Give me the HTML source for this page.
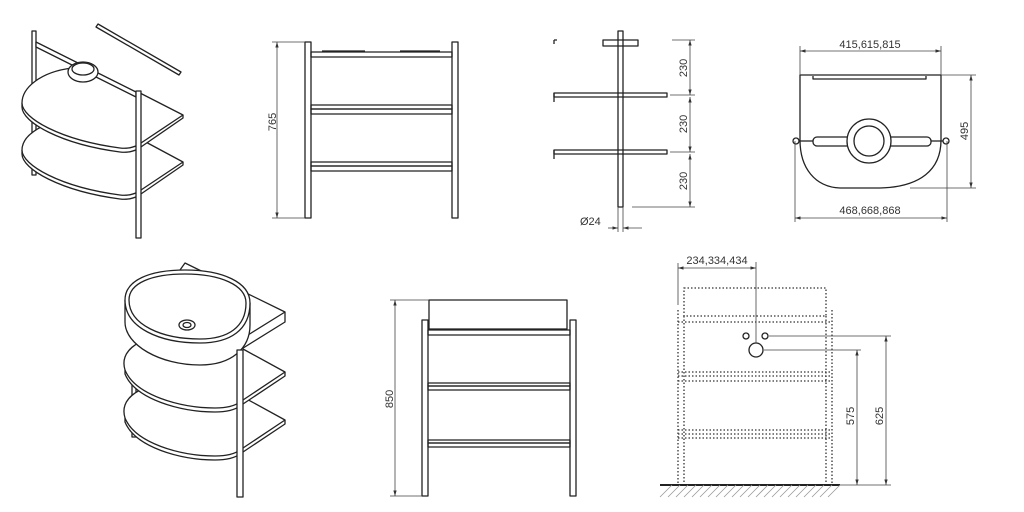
<!DOCTYPE html>
<html><head><style>
html,body{margin:0;padding:0;background:#fff;}
svg{display:block}
text{font-family:"Liberation Sans",sans-serif;font-size:11px;fill:#333}
</style></head><body>
<svg width="1024" height="512" viewBox="0 0 1024 512" xmlns="http://www.w3.org/2000/svg">
<defs>
<marker id="a" viewBox="0 0 10 10" refX="10" refY="5" markerWidth="7" markerHeight="7" orient="auto-start-reverse"><path d="M0,2 L10,5 L0,8 z" fill="#333"/></marker>
</defs>
<g fill="none" stroke="#222" stroke-width="1.3" stroke-linejoin="round">
<!-- ISO 1 top-left -->
<rect x="32" y="31" width="4" height="144" fill="#fff"/>
<path d="M98,24 L181,72 L179,75 L96,27 z" fill="#fff"/>
<!-- shelf 2 -->
<path d="M22,150 L22,154 C22,169 60,191 120,199 C128,200 134,198 138,196 L183,165 L183,162" fill="#fff"/>
<path d="M45,125 C30,132 22,140 22,150 C22,165 60,187 120,195 C128,196 134,194 138,192 L183,162 L142,140" fill="#fff"/>
<!-- shelf 1 -->
<path d="M22,103 L22,107 C22,122 60,144 120,152 C128,153 134,151 138,149 L183,118 L183,115" fill="#fff"/>
<path d="M72,68 C40,72 22,88 22,103 C22,118 60,140 120,148 C128,149 134,147 138,145 L183,115 L140,93" fill="#fff"/>
<!-- top bar + ring -->
<path d="M36,42 L136,92 L136,97 L36,47 z" fill="#fff"/>
<ellipse cx="83" cy="72" rx="15" ry="10" fill="#fff"/>
<ellipse cx="83" cy="69" rx="11" ry="6"/>
<rect x="136" y="91" width="5" height="147" fill="#fff"/>

<!-- FRONT 1 -->
<rect x="305" y="42" width="6" height="176" fill="#fff"/>
<rect x="452" y="42" width="6" height="176" fill="#fff"/>
<rect x="311" y="52" width="141" height="5"/>
<line x1="322" y1="51" x2="365" y2="51"/><line x1="400" y1="51" x2="440" y2="51"/>
<rect x="311" y="105" width="141" height="4"/><rect x="311" y="109" width="141" height="5"/>
<rect x="311" y="162" width="141" height="4"/><rect x="311" y="166" width="141" height="5"/>

<!-- SIDE view -->
<rect x="618" y="31" width="5" height="176" fill="#fff"/>
<rect x="603" y="40" width="35" height="6"/>
<path d="M554,40 v4 M554,40 h3"/>
<rect x="554" y="93" width="113" height="4"/><line x1="554" y1="93" x2="554" y2="102"/>
<rect x="554" y="150" width="113" height="4"/><line x1="554" y1="150" x2="554" y2="159"/>

<!-- TOP view -->
<path d="M800,75 L941,75 L941,140 C941,170 920,187 880,188 L840,188 C815,187 800,168 800,140 z"/>
<path d="M813,76 L813,79 L926,79 L926,76"/>
<rect x="813" y="137" width="118" height="9" rx="4" fill="#fff"/>
<circle cx="869" cy="141" r="22" fill="#fff"/>
<circle cx="869" cy="141" r="15"/>
<line x1="798" y1="141" x2="813" y2="141"/><line x1="931" y1="141" x2="944" y2="141"/>
<circle cx="796" cy="141" r="3" fill="#fff"/><circle cx="946" cy="141" r="3" fill="#fff"/>

<!-- ISO 2 -->
<rect x="132" y="380" width="4" height="57" fill="#fff"/>
<!-- shelf 2 -->
<path d="M125,418 L125,422 C135,447 180,460 215,460 C228,460 236,457 240,454 L285,424 L285,420" fill="#fff"/>
<path d="M140,390 C125,398 122,408 125,418 C135,443 180,456 215,456 C228,456 236,453 240,450 L285,420 L243,397" fill="#fff"/>
<!-- shelf 1 -->
<path d="M125,370 L125,374 C135,399 180,412 215,412 C228,412 236,409 240,406 L285,376 L285,372" fill="#fff"/>
<path d="M140,342 C125,350 122,360 125,370 C135,395 180,408 215,408 C228,408 236,405 240,402 L285,372 L243,349" fill="#fff"/>
<!-- counter slab -->
<path d="M185,263 L285,312 L285,322 L240,350 L225,345 L180,270 z" fill="#fff"/>
<path d="M285,312 L240,340 L240,350"/>
<!-- basin -->
<path d="M125,300 L125,322 C125,345 160,365 200,365 C232,365 250,348 250,325 L250,303" fill="#fff"/>
<path d="M125,300 C125,280 150,270 185,270 C222,270 250,282 250,303 C250,330 230,343 200,343 C160,343 125,328 125,300 z" fill="#fff"/>
<path d="M129,300 C129,283 152,274 185,274 C220,274 246,285 246,303 C246,327 228,339 200,339 C162,339 129,325 129,300 z"/>
<ellipse cx="187" cy="325" rx="8" ry="5"/><ellipse cx="187" cy="325" rx="4" ry="2.5"/>
<rect x="237" y="350" width="6" height="147" fill="#fff"/>

<!-- FRONT 2 -->
<rect x="429" y="300" width="138" height="29"/>
<rect x="422" y="320" width="6" height="176" fill="#fff"/>
<rect x="570" y="320" width="6" height="176" fill="#fff"/>
<rect x="428" y="330" width="142" height="5"/>
<rect x="428" y="383" width="142" height="3"/><rect x="428" y="386" width="142" height="4"/>
<rect x="428" y="440" width="142" height="3"/><rect x="428" y="443" width="142" height="4"/>
</g>

<!-- DOTTED front view -->
<g fill="none" stroke="#333" stroke-width="1.3" stroke-dasharray="1.5,2">
<rect x="684" y="288" width="142" height="28"/>
<path d="M678,310 V485 M684,316 V485 M826,316 V485 M832,310 V485"/>
<path d="M678,322 H832 M678,372 H832 M678,376 H832 M678,381 H832 M678,430 H832 M678,434 H832 M678,438 H832"/>
</g>
<g fill="none" stroke="#222" stroke-width="1.3">
<circle cx="746" cy="336" r="3"/><circle cx="765" cy="336" r="3"/><circle cx="756" cy="350" r="7"/>
<line x1="660" y1="485" x2="840" y2="485" stroke-width="2"/>
</g>
<g stroke="#999" stroke-width="0.8">
<path d="M660,497 l12,-12 M668,497 l12,-12 M676,497 l12,-12 M684,497 l12,-12 M692,497 l12,-12 M700,497 l12,-12 M708,497 l12,-12 M716,497 l12,-12 M724,497 l12,-12 M732,497 l12,-12 M740,497 l12,-12 M748,497 l12,-12 M756,497 l12,-12 M764,497 l12,-12 M772,497 l12,-12 M780,497 l12,-12 M788,497 l12,-12 M796,497 l12,-12 M804,497 l12,-12 M812,497 l12,-12 M820,497 l12,-12 M828,497 l12,-12"/>
</g>

<!-- DIMENSIONS -->
<g stroke="#444" stroke-width="0.8" fill="none">
<line x1="277" y1="42" x2="277" y2="218" marker-start="url(#a)" marker-end="url(#a)"/>
<path d="M272,42 H305 M272,218 H305"/>
<line x1="690" y1="40" x2="690" y2="95" marker-start="url(#a)" marker-end="url(#a)"/>
<line x1="690" y1="97" x2="690" y2="152" marker-start="url(#a)" marker-end="url(#a)"/>
<line x1="690" y1="154" x2="690" y2="207" marker-start="url(#a)" marker-end="url(#a)"/>
<path d="M672,40 H695 M670,95 H695 M670,152 H695 M632,207 H695"/>
<path d="M618,207 V232 M623,207 V232"/>
<line x1="608" y1="228" x2="618" y2="228" marker-end="url(#a)"/>
<line x1="642" y1="228" x2="623" y2="228" marker-end="url(#a)"/>
<line x1="800" y1="51" x2="941" y2="51" marker-start="url(#a)" marker-end="url(#a)"/>
<path d="M800,46 V75 M941,46 V75"/>
<line x1="971" y1="75" x2="971" y2="188" marker-start="url(#a)" marker-end="url(#a)"/>
<path d="M941,75 H976 M910,188 H976"/>
<line x1="795" y1="218" x2="947" y2="218" marker-start="url(#a)" marker-end="url(#a)"/>
<path d="M795,141 V222 M947,141 V222"/>
<line x1="395" y1="300" x2="395" y2="496" marker-start="url(#a)" marker-end="url(#a)"/>
<path d="M390,300 H429 M390,496 H422"/>
<line x1="678" y1="268" x2="756" y2="268" marker-start="url(#a)" marker-end="url(#a)"/>
<path d="M678,263 V305 M756,262 V343"/>
<path d="M769,336 H891 M764,350 H861 M840,485 H891"/>
<line x1="857" y1="350" x2="857" y2="485" marker-start="url(#a)" marker-end="url(#a)"/>
<line x1="886" y1="336" x2="886" y2="485" marker-start="url(#a)" marker-end="url(#a)"/>
</g>
<g>
<text transform="translate(276,122) rotate(-90)" text-anchor="middle">765</text>
<text transform="translate(687,68) rotate(-90)" text-anchor="middle">230</text>
<text transform="translate(687,124) rotate(-90)" text-anchor="middle">230</text>
<text transform="translate(687,181) rotate(-90)" text-anchor="middle">230</text>
<text x="580" y="225">Ø24</text>
<text x="870" y="48" text-anchor="middle">415,615,815</text>
<text transform="translate(968,131) rotate(-90)" text-anchor="middle">495</text>
<text x="870" y="214" text-anchor="middle">468,668,868</text>
<text transform="translate(393,399) rotate(-90)" text-anchor="middle">850</text>
<text x="717" y="264" text-anchor="middle">234,334,434</text>
<text transform="translate(854,416) rotate(-90)" text-anchor="middle">575</text>
<text transform="translate(883,416) rotate(-90)" text-anchor="middle">625</text>
</g>
</svg>
</body></html>
